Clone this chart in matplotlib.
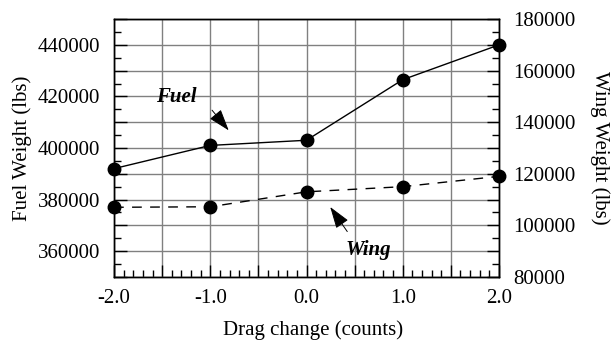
import matplotlib
matplotlib.use("Agg")
import matplotlib.pyplot as plt
from matplotlib.ticker import MultipleLocator, FuncFormatter
import numpy as np

# drag change in counts
drag = [-2.0, -1.0, 0.0, 1.0, 2.0]
# fuel weight (lbs), left axis
fuel = [392000, 401000, 403000, 426500, 440000]
# wing weight (lbs), right axis
wing = [107000, 107200, 113000, 115000, 119000]

plt.rcParams['font.family'] = ['Liberation Serif', 'DejaVu Serif']
plt.rcParams['font.size'] = 15

fig = plt.figure(figsize=(6.13, 3.41), dpi=100)
ax = fig.add_axes([0.186, 0.188, 0.628, 0.756])
ax2 = ax.twinx()

ax.plot(drag, fuel, color='black', lw=1.0, marker='o', ms=9, clip_on=False, zorder=5)
ax2.plot(drag, wing, color='black', lw=1.0, ls=(0, (7, 6)), marker='o', ms=9,
         clip_on=False, zorder=5)

ax.set_xlim(-2, 2)
ax.set_ylim(350000, 450000)
ax2.set_ylim(80000, 180000)

# x: grid every 0.5, labels every 1.0, small ticks every 0.1
ax.xaxis.set_major_locator(MultipleLocator(0.5))
ax.xaxis.set_minor_locator(MultipleLocator(0.1))
ax.xaxis.set_major_formatter(FuncFormatter(
    lambda v, p: "%.1f" % v if abs(v - round(v)) < 1e-6 else ""))

# left: grid every 10000, labels every 20000
ax.yaxis.set_major_locator(MultipleLocator(10000))
ax.yaxis.set_minor_locator(MultipleLocator(5000))
ax.yaxis.set_major_formatter(FuncFormatter(
    lambda v, p: "%d" % v if (round(v) % 20000 == 0 and v > 350000 and v < 450000) else ""))

ax2.yaxis.set_major_locator(MultipleLocator(10000))
ax2.yaxis.set_minor_locator(MultipleLocator(5000))
ax2.yaxis.set_major_formatter(FuncFormatter(
    lambda v, p: "%d" % v if round(v) % 20000 == 0 else ""))

ax.grid(True, which='major', color='#808080', lw=1.0)
ax.set_axisbelow(True)

for a in (ax, ax2):
    a.tick_params(which='major', direction='in', length=9, width=1, color='black')
    a.tick_params(which='minor', direction='in', length=5, width=1, color='black')
    for s in a.spines.values():
        s.set_linewidth(1.0)
ax.tick_params(axis='x', pad=8.5)
ax.tick_params(axis='y', pad=10)
ax2.tick_params(axis='y', pad=10)

ax.set_xlabel("Drag change (counts)", labelpad=6)
ax.xaxis.set_label_coords(0.517, -0.17)
ax.set_ylabel("Fuel Weight (lbs)", labelpad=4)
ax2.set_ylabel("Wing Weight (lbs)", rotation=-90, labelpad=25)

arrow = dict(arrowstyle='-|>,head_length=0.9,head_width=0.3', color='black', lw=0.7)
ax.annotate("Fuel", xy=(-0.79, 406000), xytext=(-1.35, 419800),
            fontsize=15, fontweight='bold', fontstyle='italic',
            ha='center', va='center', zorder=6)
ax.annotate("", xy=(-0.79, 406000), xytext=(-1.0, 415500), arrowprops=arrow, zorder=6)
ax2.annotate("Wing", xy=(0.23, 108000), xytext=(0.64, 90400),
             fontsize=15, fontweight='bold', fontstyle='italic',
             ha='center', va='center', zorder=6)
ax2.annotate("", xy=(0.23, 108000), xytext=(0.44, 96700), arrowprops=arrow, zorder=6)

fig.savefig("out.png", dpi=100)
